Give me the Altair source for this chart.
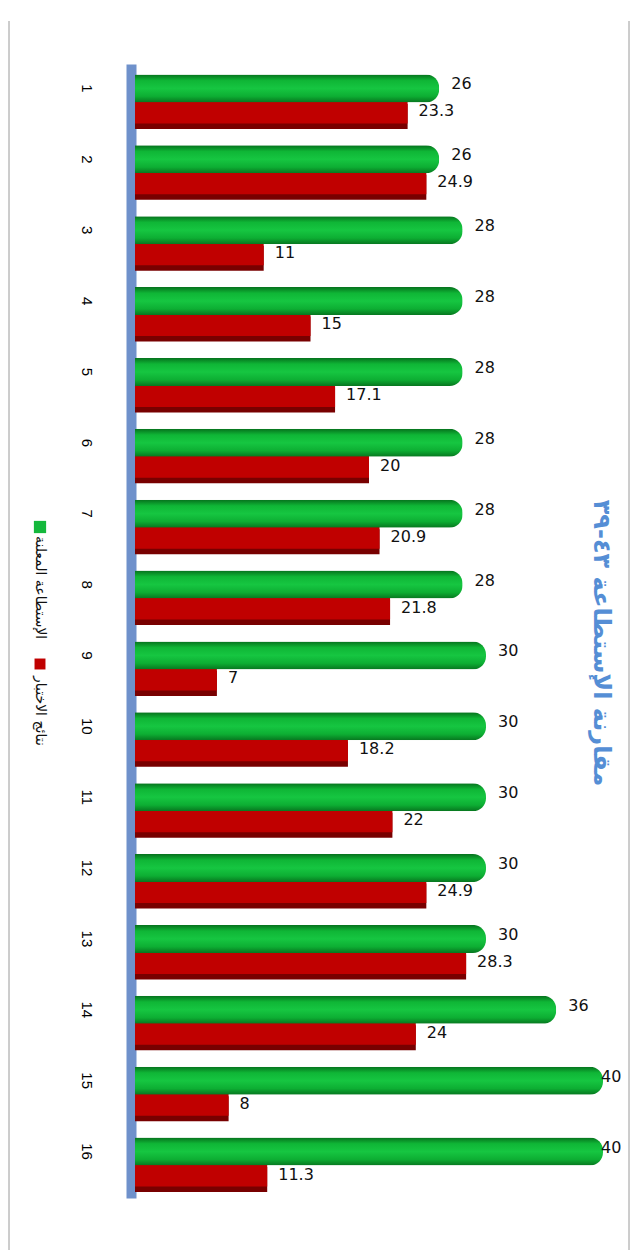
import altair as alt
import pandas as pd

# ---------------- data ----------------
categories = ["1", "2", "3", "4", "5", "6", "7", "8",
              "9", "10", "11", "12", "13", "14", "15", "16"]
declared = [26, 26, 28, 28, 28, 28, 28, 28, 30, 30, 30, 30, 30, 36, 40, 40]
tested = [23.3, 24.9, 11, 15, 17.1, 20, 20.9, 21.8, 7, 18.2, 22, 24.9, 28.3, 24, 8, 11.3]
series_names = ["الإستطاعة المعلنة", "نتائج الاختبار"]
title_text = "مقارنة الإستطاعة ٤٣-٣٩"
x_domain = [0, 40]
label_clamp = 38.8  # labels of the longest bars are kept inside the plot (as in Excel)

df = pd.DataFrame({"cat": categories, "declared": declared, "tested": tested})

# ---------------- styles ----------------
W, H = 468, 1134
GREEN = "#14B83C"
RED = "#C00000"
RED_DARK = "#780000"
TITLE_BLUE = "#558ED5"
FONT = "DejaVu Sans"

green_grad = alt.LinearGradient(
    gradient="linear",
    stops=[
        alt.GradientStop(color="#06711D", offset=0.0),
        alt.GradientStop(color="#0FB636", offset=0.22),
        alt.GradientStop(color="#16C641", offset=0.5),
        alt.GradientStop(color="#0DAE33", offset=0.78),
        alt.GradientStop(color="#07761F", offset=1.0),
    ],
    x1=0, x2=0, y1=0, y2=1,
)

x_scale = alt.Scale(domain=x_domain, nice=False, zero=True)
y_enc = alt.Y(
    "cat:N",
    sort=categories,
    scale=alt.Scale(paddingInner=0, paddingOuter=0),
    axis=alt.Axis(
        title=None,
        labelAngle=90,
        labelAlign="center",
        labelBaseline="top",
        labelPadding=38,
        labelOffset=-11,
        ticks=False,
        tickSize=0,
        grid=False,
        domainWidth=10,
        domainColor="#6F91CB",
        offset=4,
        labelFont="Liberation Sans",
        labelFontSize=15,
        labelColor="#000000",
    ),
)

base = alt.Chart(df)

red_shadow = base.mark_bar(color=RED_DARK, size=25, yOffset=17, x2Offset=5).encode(
    x=alt.X("tested:Q", scale=x_scale, axis=None), y=y_enc
)
red_face = base.mark_bar(color=RED, size=26, yOffset=11).encode(
    x=alt.X("tested:Q", scale=x_scale, axis=None), y=y_enc
)
green_bar = base.mark_bar(
    color=green_grad, size=28, yOffset=-11, x2Offset=3, cornerRadiusEnd=13
).encode(x=alt.X("declared:Q", scale=x_scale, axis=None), y=y_enc)

green_labels = (
    base.transform_calculate(lx=f"min(datum.declared, {label_clamp})")
    .mark_text(align="left", baseline="middle", dx=12, yOffset=-15,
               font=FONT, fontSize=16, color="#111111")
    .encode(x=alt.X("lx:Q", scale=x_scale, axis=None), y=y_enc,
            text=alt.Text("declared:Q", format="~g"))
)
red_labels = base.mark_text(
    align="left", baseline="middle", dx=11, yOffset=12,
    font=FONT, fontSize=16, color="#111111"
).encode(x=alt.X("tested:Q", scale=x_scale, axis=None), y=y_enc,
         text=alt.Text("tested:Q", format="~g"))

# frame lines (chart-area border)
frame_df = pd.DataFrame({"k": [0]})
frame_left = alt.Chart(frame_df).mark_rule(color="#9A9A9A", strokeWidth=1).encode(
    x=alt.value(-126), y=alt.value(-43), y2=alt.value(1187)
)
frame_right = alt.Chart(frame_df).mark_rule(color="#9A9A9A", strokeWidth=1).encode(
    x=alt.value(494), y=alt.value(-43), y2=alt.value(1187)
)

# rotated legend (drawn manually, as Vega legends cannot rotate)
leg0 = pd.DataFrame({"name": [series_names[0]]})
leg1 = pd.DataFrame({"name": [series_names[1]]})
leg_sq0 = alt.Chart(leg0).mark_square(size=150, color=GREEN, opacity=1).encode(
    x=alt.value(-95), y=alt.value(463)
)
leg_tx0 = alt.Chart(leg0).mark_text(
    angle=90, align="left", baseline="middle", font=FONT, fontSize=14, color="#111111"
).encode(x=alt.value(-95), y=alt.value(472), text="name:N")
leg_sq1 = alt.Chart(leg1).mark_square(size=120, color=RED, opacity=1).encode(
    x=alt.value(-95), y=alt.value(600)
)
leg_tx1 = alt.Chart(leg1).mark_text(
    angle=90, align="left", baseline="middle", font=FONT, fontSize=14, color="#111111"
).encode(x=alt.value(-95), y=alt.value(612), text="name:N")

# rotated title on the right
title_df = pd.DataFrame({"t": [title_text]})
title = alt.Chart(title_df).mark_text(
    angle=90, align="center", baseline="middle", font=FONT, fontSize=24,
    fontWeight="bold", color=TITLE_BLUE
).encode(x=alt.value(466), y=alt.value(579), text="t:N")

chart = (
    alt.layer(
        frame_left, frame_right,
        red_shadow, red_face, green_bar,
        green_labels, red_labels,
        leg_sq0, leg_tx0, leg_sq1, leg_tx1,
        title,
    )
    .properties(width=W, height=H, padding={"left": 8, "top": 20, "right": 0, "bottom": 0},
                background="white")
    .configure_view(stroke=None)
)

chart.save("out.html", embed_options={"renderer": "svg", "actions": False})
